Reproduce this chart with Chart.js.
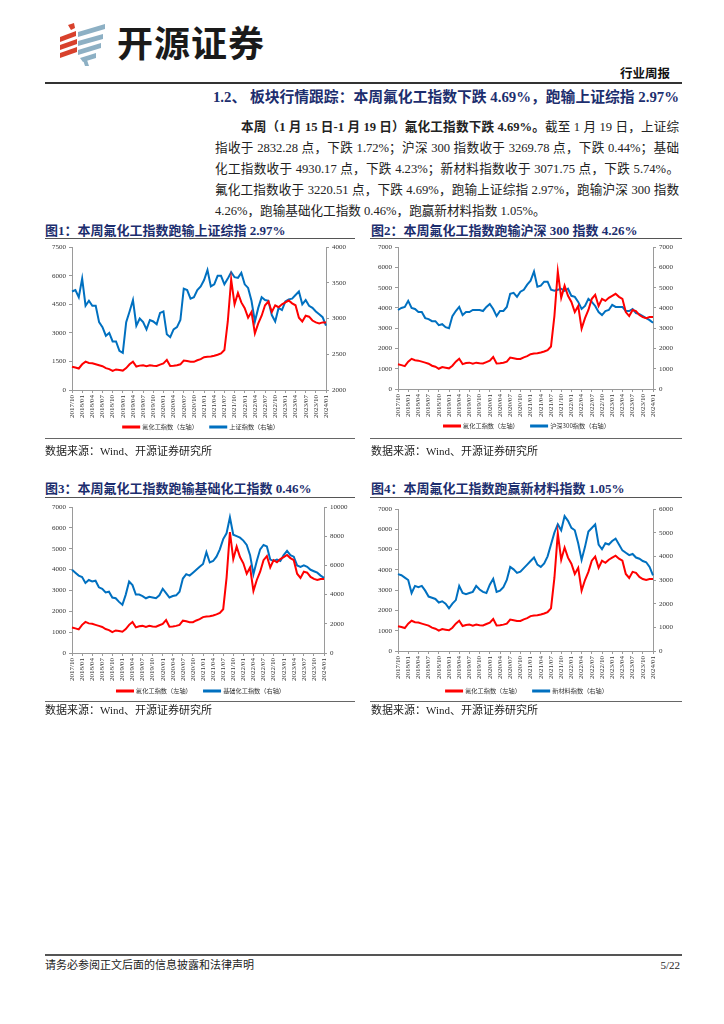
<!DOCTYPE html>
<html><head><meta charset="utf-8">
<script src="https://cdn.jsdelivr.net/npm/chart.js@4.4.1/dist/chart.umd.min.js"></script>
<style>
body{margin:0;background:#fff;}
#page{position:relative;width:724px;height:1024px;overflow:hidden;background:#fff;font-family:"Liberation Serif","Noto Sans CJK SC",serif;color:#222;}
.abs{position:absolute;white-space:nowrap;}
.brand{left:117px;top:20px;font-family:"Noto Sans CJK SC",sans-serif;font-weight:700;font-size:36px;letter-spacing:1px;color:#1a1a1a;line-height:42px;}
.rpt{right:54px;top:64px;font-family:"Noto Sans CJK SC",sans-serif;font-weight:700;font-size:12.5px;line-height:18px;color:#111;}
.hline{position:absolute;background:#333;}
.sec{right:45px;top:88px;font-size:14.8px;line-height:19px;font-weight:700;color:#1c2e6e;}
.para{position:absolute;left:215px;width:464px;font-size:12.6px;line-height:21px;height:21px;white-space:nowrap;text-align:justify;text-align-last:justify;color:#222;}
.para.last{text-align:left;text-align-last:left;}
.ftitle{font-size:13px;line-height:17px;font-weight:700;color:#1c2e6e;}
.src{font-size:11px;line-height:14px;color:#222;}
.box{position:absolute;}
.foot{font-size:11px;line-height:14px;color:#222;}
</style></head>
<body><div id="page">

<svg class="abs" style="left:56px;top:20px" width="56" height="48" viewBox="0 0 56 48">
  <g fill="#d8412c">
    <polygon points="12,5 18,3 19,8 15,10"/>
    <polygon points="4,17 20,11 20,16 4,22"/>
    <polygon points="4,25 21,19 21,24 4,30"/>
    <polygon points="4,33 21,27 21,32 4,38"/>
  </g>
  <g fill="#8db0c4">
    <polygon points="22,12 49,4 49,9 22,17"/>
    <polygon points="22,21 47,14 47,19 22,26"/>
    <polygon points="22,30 45,23 45,28 22,35"/>
    <polygon points="24,38 40,33 40,38 27,42"/>
    <polygon points="27,40 31,40 33,46 29,46"/>
  </g>
</svg>
<div class="abs brand">开源证券</div>
<div class="abs rpt">行业周报</div>
<div class="hline" style="left:45px;top:82px;width:637px;height:1.5px;"></div>

<div class="abs sec">1.2、 板块行情跟踪：本周氟化工指数下跌 4.69%，跑输上证综指 2.97%</div>

<div class="para" style="left:241px;width:438px;top:117px;"><b>本周（1 月 15 日-1 月 19 日）氟化工指数下跌 4.69%。</b>截至 1 月 19 日，上证综</div>
<div class="para" style="top:138px;">指收于 2832.28 点，下跌 1.72%；沪深 300 指数收于 3269.78 点，下跌 0.44%；基础</div>
<div class="para" style="top:159px;">化工指数收于 4930.17 点，下跌 4.23%；新材料指数收于 3071.75 点，下跌 5.74%。</div>
<div class="para" style="top:180px;">氟化工指数收于 3220.51 点，下跌 4.69%，跑输上证综指 2.97%，跑输沪深 300 指数</div>
<div class="para last" style="top:201px;">4.26%，跑输基础化工指数 0.46%，跑赢新材料指数 1.05%。</div>

<div class="abs ftitle" style="left:45px;top:222px;">图1：本周氟化工指数跑输上证综指 2.97%</div>
<div class="abs ftitle" style="left:371px;top:222px;">图2：本周氟化工指数跑输沪深 300 指数 4.26%</div>
<div class="hline" style="left:45px;top:238px;width:310px;height:1.2px;background:#555;"></div>
<div class="hline" style="left:370px;top:238px;width:312px;height:1.2px;background:#555;"></div>

<div class="box" style="left:45px;top:240px;width:312px;height:201px;"><canvas id="c1"></canvas></div>
<div class="box" style="left:371px;top:240px;width:312px;height:200px;"><canvas id="c2"></canvas></div>

<div class="hline" style="left:45px;top:438px;width:310px;height:1px;background:#666;"></div>
<div class="hline" style="left:370px;top:438px;width:312px;height:1px;background:#666;"></div>
<div class="abs src" style="left:45px;top:444px;">数据来源：Wind、开源证券研究所</div>
<div class="abs src" style="left:371px;top:444px;">数据来源：Wind、开源证券研究所</div>

<div class="abs ftitle" style="left:45px;top:480px;">图3：本周氟化工指数跑输基础化工指数 0.46%</div>
<div class="abs ftitle" style="left:371px;top:480px;">图4：本周氟化工指数跑赢新材料指数 1.05%</div>
<div class="hline" style="left:45px;top:497px;width:310px;height:1.2px;background:#555;"></div>
<div class="hline" style="left:370px;top:497px;width:312px;height:1.2px;background:#555;"></div>

<div class="box" style="left:45px;top:499px;width:312px;height:206px;"><canvas id="c3"></canvas></div>
<div class="box" style="left:371px;top:499px;width:312px;height:206px;"><canvas id="c4"></canvas></div>

<div class="hline" style="left:45px;top:701px;width:310px;height:1px;background:#666;"></div>
<div class="hline" style="left:370px;top:701px;width:312px;height:1px;background:#666;"></div>
<div class="abs src" style="left:45px;top:703px;">数据来源：Wind、开源证券研究所</div>
<div class="abs src" style="left:371px;top:703px;">数据来源：Wind、开源证券研究所</div>

<div class="hline" style="left:45px;top:954px;width:637px;height:1.5px;background:#555;"></div>
<div class="abs foot" style="left:45px;top:958px;">请务必参阅正文后面的信息披露和法律声明</div>
<div class="abs foot" style="right:44px;top:958px;">5/22</div>

</div>
<script>
const months = ["2017/10","2017/11","2017/12",
"2018/01","2018/02","2018/03","2018/04","2018/05","2018/06","2018/07","2018/08","2018/09","2018/10","2018/11","2018/12",
"2019/01","2019/02","2019/03","2019/04","2019/05","2019/06","2019/07","2019/08","2019/09","2019/10","2019/11","2019/12",
"2020/01","2020/02","2020/03","2020/04","2020/05","2020/06","2020/07","2020/08","2020/09","2020/10","2020/11","2020/12",
"2021/01","2021/02","2021/03","2021/04","2021/05","2021/06","2021/07","2021/08","2021/09","2021/10","2021/11","2021/12",
"2022/01","2022/02","2022/03","2022/04","2022/05","2022/06","2022/07","2022/08","2022/09","2022/10","2022/11","2022/12",
"2023/01","2023/02","2023/03","2023/04","2023/05","2023/06","2023/07","2023/08","2023/09","2023/10","2023/11","2023/12",
"2024/01"];

// 氟化工指数（左轴）
const fluoroChem = [1220,1180,1130,
1350,1490,1420,1400,1350,1300,1250,1150,1100,1000,1080,1050,
1020,1150,1350,1490,1230,1280,1300,1250,1300,1270,1260,1330,
1400,1580,1260,1270,1300,1350,1550,1520,1480,1480,1560,1620,
1720,1750,1760,1800,1850,1920,2100,3600,5800,4500,5100,4600,
4300,3800,4100,2980,3500,3900,4450,4650,4100,4450,4350,4500,
4600,4700,4550,4450,3800,3600,3900,3850,3650,3550,3500,3550,
3550];

// 上证指数（右轴）
const shComposite = [3380,3400,3300,
3560,3180,3250,3180,3180,2950,2880,2760,2800,2680,2680,2550,
2520,2950,3100,3260,2900,3000,2950,2850,2980,2960,2920,3080,
3100,2780,2740,2850,2880,2980,3420,3400,3280,3300,3400,3450,
3540,3680,3450,3480,3600,3600,3480,3560,3650,3580,3570,3640,
3480,3430,3250,2960,3150,3300,3260,3250,3050,2960,3150,3120,
3240,3270,3280,3330,3380,3200,3260,3180,3150,3100,3060,3020,
2900];

// 沪深300指数（右轴）
const csi300 = [3900,4000,4050,
4350,4000,3950,3800,3800,3500,3450,3350,3350,3150,3200,3050,
3000,3600,3850,4050,3650,3800,3800,3900,3900,3900,3850,4050,
4200,3950,3600,3850,3850,4050,4700,4750,4550,4800,4900,5150,
5350,5800,5050,5100,5300,5300,4900,4850,4900,4950,4850,4950,
4600,4550,4300,3950,4100,4450,4300,4100,3800,3650,3850,3900,
4150,4050,4050,4050,3850,3850,3950,3750,3700,3600,3500,3400,
3270];

// 基础化工指数（右轴）
const basicChem = [5700,5500,5300,
5200,4800,5000,4900,4950,4500,4400,4150,4200,3800,3750,3500,
3300,4000,4900,4650,4000,4000,3900,3750,3850,3800,3750,3950,
4400,4100,3800,3900,3950,4200,5100,5400,5300,5500,5700,5900,
6100,6900,6200,6300,6600,7100,7800,8200,9300,8100,8000,7900,
7700,7400,6700,5400,6300,7100,7400,7300,6400,6300,6400,6300,
6700,7000,6700,6600,6000,5900,6000,5900,5700,5600,5500,5300,
5150];

// 新材料指数（右轴）
const newMaterial = [3250,3200,3100,
3000,2450,2750,2700,2750,2550,2300,2250,2200,2050,2100,2000,
1800,2000,2150,2750,2450,2400,2450,2500,2750,2600,2500,2450,
2800,3050,2500,2550,2700,3000,3550,3450,3300,3350,3500,3650,
3800,3950,3650,3550,3700,4000,4500,5000,5350,5100,5700,5500,
5200,5100,4550,3850,4400,5050,5200,5350,4500,4300,4550,4500,
4650,4750,4500,4250,4150,4050,4100,3950,3900,3800,3750,3550,
3200];

const redLabel = "氟化工指数（左轴）";
const RED = "#ff0000", BLUE = "#0070c0", AX = "#9a9a9a";
const SERIF = '"Liberation Serif", "Noto Sans CJK SC", serif';
const CJK = '"Noto Sans CJK SC", sans-serif';

function legendLabels(chart) {
  const items = Chart.defaults.plugins.legend.labels.generateLabels(chart);
  return items.map((it, i) => (i === 0 ? Object.assign({}, it, {text: it.text + "\u3000\u3000"}) : it));
}

const plainNum = v => String(v);

function makeChart(id, o) {
  new Chart(document.getElementById(id), {
    type: "line",
    data: {
      labels: months,
      datasets: [
        {label: redLabel, data: fluoroChem, borderColor: RED, backgroundColor: RED, borderWidth: 2, pointRadius: 0, tension: 0, yAxisID: "yL"},
        {label: o.blueLabel, data: o.blue, borderColor: BLUE, backgroundColor: BLUE, borderWidth: 2, pointRadius: 0, tension: 0, yAxisID: "yR"}
      ]
    },
    options: {
      responsive: true, maintainAspectRatio: false, animation: false,
      layout: {padding: {top: o.padTop, bottom: o.padBottom, left: 0, right: 0}},
      plugins: {
        legend: {position: "bottom", labels: {boxWidth: 16, boxHeight: 1, padding: 3, color: "#333", font: {family: CJK, size: 6.2}, generateLabels: legendLabels}},
        tooltip: {enabled: false}
      },
      scales: {
        x: {
          type: "category",
          grid: {drawOnChartArea: false, drawTicks: true, tickLength: 3, tickColor: c => (c.index % 3 === 0 ? AX : "rgba(0,0,0,0)")},
          border: {color: AX, width: 1},
          ticks: {autoSkip: false, minRotation: 90, maxRotation: 90, padding: 2, color: "#333", font: {family: SERIF, size: 7},
            callback: (v, i) => (i % 3 === 0 ? months[i] : "")},
          afterFit: s => { s.height = o.xH; }
        },
        yL: {
          position: "left", min: 0, max: o.lMax,
          ticks: {stepSize: o.lStep, padding: 3, color: "#333", font: {family: SERIF, size: 7}, callback: plainNum},
          grid: {drawOnChartArea: false, tickLength: 3, tickColor: AX},
          border: {color: AX, width: 1},
          afterFit: s => { s.width = o.lW; }
        },
        yR: {
          position: "right", min: o.rMin, max: o.rMax,
          ticks: {stepSize: o.rStep, padding: 3, color: "#333", font: {family: SERIF, size: 7}, callback: plainNum},
          grid: {drawOnChartArea: false, tickLength: 3, tickColor: AX},
          border: {color: AX, width: 1},
          afterFit: s => { s.width = o.rW; }
        }
      }
    }
  });
}

makeChart("c1", {blue: shComposite, blueLabel: "上证指数（右轴）", lMax: 7500, lStep: 1500, rMin: 2000, rMax: 4000, rStep: 500, lW: 27, rW: 31, padTop: 7, padBottom: 0.8, xH: 31});
makeChart("c2", {blue: csi300, blueLabel: "沪深300指数（右轴）", lMax: 7000, lStep: 1000, rMin: 0, rMax: 7000, rStep: 1000, lW: 27, rW: 30, padTop: 7, padBottom: 0.8, xH: 31});
makeChart("c3", {blue: basicChem, blueLabel: "基础化工指数（右轴）", lMax: 7000, lStep: 1000, rMin: 0, rMax: 10000, rStep: 2000, lW: 27, rW: 33, padTop: 8, padBottom: 0.8, xH: 32});
makeChart("c4", {blue: newMaterial, blueLabel: "新材料指数（右轴）", lMax: 7000, lStep: 1000, rMin: 0, rMax: 6000, rStep: 1000, lW: 27, rW: 30, padTop: 10, padBottom: 0.8, xH: 34});
</script>
</body></html>
